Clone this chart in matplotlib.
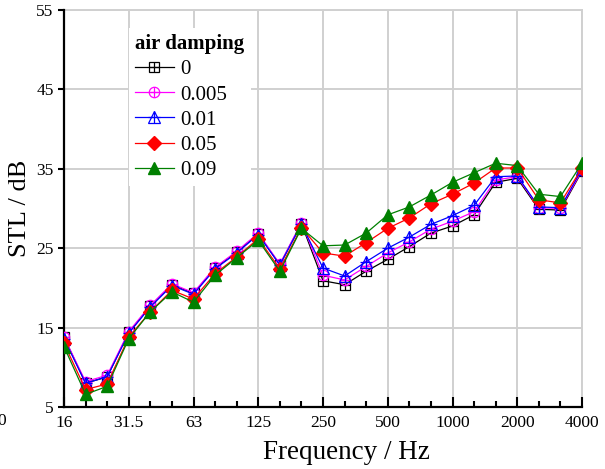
import numpy as np
import matplotlib
matplotlib.use("Agg")
import matplotlib.pyplot as plt
from matplotlib.legend_handler import HandlerTuple

plt.rcParams['font.family'] = ['Liberation Serif', 'DejaVu Serif']

# 1/3 octave band centre frequencies
bands = ['16', '20', '25', '31.5', '40', '50', '63', '80', '100', '125', '160', '200',
         '250', '315', '400', '500', '630', '800', '1000', '1250', '1600', '2000',
         '2500', '3150', '4000']
shown_labels = ['16', '31.5', '63', '125', '250', '500', '1000', '2000', '4000']

stl_0 = [13.8, 8.0, 8.8, 14.4, 17.7, 20.4, 19.3, 22.5, 24.5, 26.8, 22.9, 28.1,
         20.9, 20.4, 22.1, 23.6, 25.2, 26.9, 27.8, 29.2, 33.3, 33.8, 29.9, 29.8, 34.7]
stl_0005 = [13.8, 8.2, 9.0, 14.5, 17.8, 20.5, 19.4, 22.6, 24.6, 26.9, 23.0, 28.2,
            21.6, 21.0, 22.7, 24.4, 25.8, 27.4, 28.4, 29.6, 33.6, 34.0, 30.1, 30.0, 34.8]
stl_001 = [13.6, 8.0, 8.8, 14.3, 17.6, 20.3, 19.2, 22.4, 24.4, 26.7, 22.9, 28.0,
           22.5, 21.5, 23.3, 25.0, 26.4, 28.0, 29.1, 30.4, 34.0, 34.1, 30.2, 30.1, 35.0]
stl_005 = [13.0, 7.2, 7.9, 13.8, 17.0, 19.7, 18.6, 21.8, 23.9, 26.2, 22.4, 27.6,
           24.4, 24.0, 25.7, 27.5, 28.8, 30.6, 31.8, 33.2, 35.1, 35.1, 31.1, 30.7, 35.1]
stl_009 = [12.6, 6.6, 7.6, 13.6, 17.0, 19.5, 18.2, 21.6, 23.8, 26.0, 22.1, 27.5,
           25.3, 25.4, 26.9, 29.2, 30.2, 31.7, 33.3, 34.5, 35.7, 35.4, 31.8, 31.5, 35.7]

x = np.arange(len(bands))

fig = plt.figure(figsize=(6.05, 4.69), dpi=100)
ax = fig.add_axes([0.1058, 0.1322, 0.8562, 0.8465])

handles = []
labels = []

# open markers with a cross inside: outline marker + '+' on top
open_series = [
    (stl_0, 'black', 's', 6.5, '0'),
    (stl_0005, 'magenta', 'o', 7.5, '0.005'),
    (stl_001, 'blue', '^', 8.5, '0.01'),
]
for y, c, m, ms, lab in open_series:
    l1, = ax.plot(x, y, color=c, lw=0.9, marker=m, ms=ms, mfc='none', mec=c, mew=0.9, zorder=3)
    l2, = ax.plot(x, y, color=c, lw=0, marker='+', ms=ms, mew=0.9, zorder=3)
    handles.append((l1, l2))
    labels.append(lab)

l, = ax.plot(x, stl_005, color='red', lw=0.9, marker='D', ms=7.5, mfc='red', mec='red', zorder=4)
handles.append(l)
labels.append('0.05')
l, = ax.plot(x, stl_009, color='green', lw=0.9, marker='^', ms=8.5, mfc='green', mec='green', zorder=5)
handles.append(l)
labels.append('0.09')

ax.set_xlim(0, len(bands) - 1)
ax.set_ylim(5, 55)
ax.set_yticks(np.arange(5, 56, 10))
ax.set_xticks(x, minor=True)
major_pos = [bands.index(b) for b in shown_labels]
ax.set_xticks(major_pos)
ax.set_xticklabels(shown_labels)

ax.tick_params(axis='x', which='major', direction='in', length=7, width=1.5, labelsize=12.5, pad=6)
ax.tick_params(axis='x', which='minor', direction='in', length=4, width=1.5)
ax.tick_params(axis='y', which='major', direction='out', length=4, width=1.5, labelsize=12.5)

for s in ['top', 'right']:
    ax.spines[s].set_visible(False)
for s in ['left', 'bottom']:
    ax.spines[s].set_linewidth(1.6)

ax.grid(True, color='#d0d0d0', lw=1.4, zorder=0)
ax.set_axisbelow(True)
ax.axhline(55, color='#d0d0d0', lw=1.4, zorder=0, clip_on=False)
ax.axvline(len(bands) - 1, color='#d0d0d0', lw=1.4, zorder=0, clip_on=False)

ax.set_xlabel('Frequency / Hz', fontsize=19.5)
ax.xaxis.set_label_coords(0.545, -0.083)
ax.set_ylabel('STL / dB', fontsize=19, labelpad=4)

leg = ax.legend(handles, labels, handler_map={tuple: HandlerTuple(ndivide=1)},
                title='air damping', loc='upper left', bbox_to_anchor=(0.125, 0.955),
                fontsize=15, title_fontsize=15, frameon=True, facecolor='white',
                edgecolor='none', framealpha=1, fancybox=False, handlelength=1.85,
                handletextpad=0.3, labelspacing=0.27, borderpad=0.3, borderaxespad=0)
leg.get_title().set_fontweight('bold')
leg._legend_box.align = 'left'
leg.set_zorder(10)

fig.text(0.002, 0.093, '0', fontsize=12.5, ha='center')

fig.savefig('out.png', dpi=100)
